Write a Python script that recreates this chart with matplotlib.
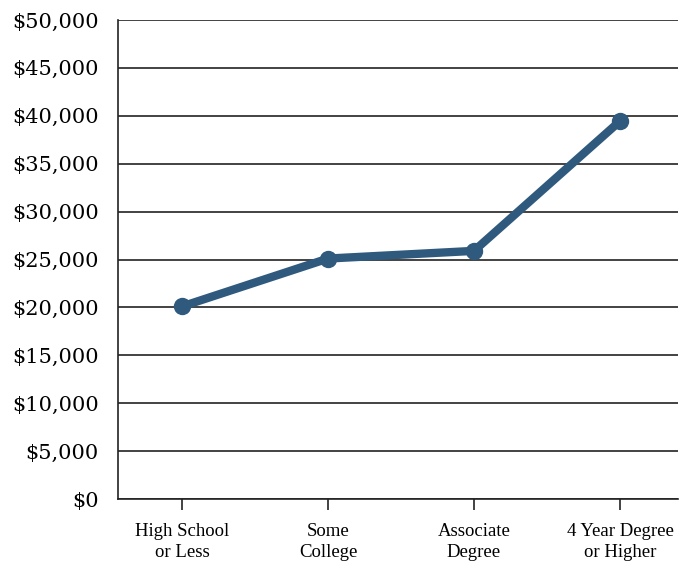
import matplotlib
matplotlib.use("Agg")
import matplotlib.pyplot as plt
from matplotlib.ticker import FuncFormatter, MultipleLocator

categories = ["High School\nor Less", "Some\nCollege", "Associate\nDegree", "4 Year Degree\nor Higher"]
earnings = [20100, 25100, 25900, 39450]

LINE_COLOR = "#2f5a7e"
GRID_COLOR = "#222222"

fig = plt.figure(figsize=(6.81, 5.63), dpi=100)
ax = fig.add_axes([118 / 681, 1 - 499 / 563, 560 / 681, 479 / 563])

x = list(range(len(categories)))
ax.plot(x, earnings, color=LINE_COLOR, linewidth=6, marker="o",
        markersize=11.5, solid_capstyle="round", zorder=3)

ax.set_ylim(0, 50000)
ax.set_xlim(-0.438, 3.397)
ax.yaxis.set_major_locator(MultipleLocator(5000))
ax.yaxis.set_major_formatter(FuncFormatter(lambda v, p: f"${v:,.0f}"))
ax.grid(axis="y", color=GRID_COLOR, linewidth=1.2)
ax.set_axisbelow(True)

for side in ["top", "right"]:
    ax.spines[side].set_visible(False)
ax.spines["left"].set_color(GRID_COLOR)
ax.spines["left"].set_linewidth(1.2)
ax.spines["bottom"].set_color(GRID_COLOR)
ax.spines["bottom"].set_linewidth(1.2)

ax.set_xticks(x)
ax.set_xticklabels(categories, fontfamily="Liberation Serif", fontsize=13.5, linespacing=1.3)
ax.tick_params(axis="x", length=8, width=1.2, color=GRID_COLOR, pad=9)
ax.tick_params(axis="y", length=0, pad=14)
for lbl in ax.get_yticklabels():
    lbl.set_fontfamily("DejaVu Serif")
    lbl.set_fontsize(15)

fig.savefig("out.png", dpi=100)
